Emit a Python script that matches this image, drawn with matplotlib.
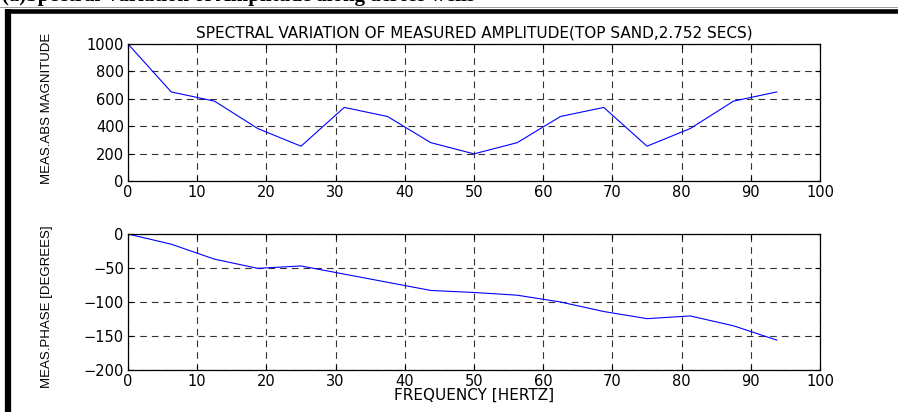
import matplotlib
matplotlib.use("Agg")
import matplotlib.pyplot as plt
from matplotlib.lines import Line2D

freq = [0, 6.25, 12.5, 18.75, 25, 31.25, 37.5, 43.75, 50, 56.25,
        62.5, 68.75, 75, 81.25, 87.5, 93.75]
magnitude = [1000, 650, 583, 383, 254, 537, 471, 280, 198, 280,
             471, 537, 254, 383, 583, 650]
phase = [0, -15, -37, -50.5, -47, -59, -71, -83, -86, -90,
         -100, -114, -124.5, -120.5, -135, -156]

mag_ticks = [0, 200, 400, 600, 800, 1000]
phase_ticks = [-200, -150, -100, -50, 0]
x_ticks = [0, 10, 20, 30, 40, 50, 60, 70, 80, 90, 100]

title = "SPECTRAL VARIATION OF MEASURED AMPLITUDE(TOP SAND,2.752 SECS)"
ylabel_top = "MEAS.ABS MAGNITUDE"
ylabel_bot = "MEAS.PHASE [DEGREES]"
xlabel = "FREQUENCY [HERTZ]"
header = "(a)Spectral Variation of Amplitude along across wells"

plt.rcParams['font.family'] = ['DejaVu Sans']

W, H = 898, 412
fig = plt.figure(figsize=(W / 100, H / 100), dpi=100)


def fx(px):
    return px / W


def fy(py):
    return 1 - py / H


ax1 = fig.add_axes([fx(128), fy(181), fx(820) - fx(128), fy(44) - fy(181)])
ax2 = fig.add_axes([fx(128), fy(370), fx(820) - fx(128), fy(234) - fy(370)])

for ax, y, yt in ((ax1, magnitude, mag_ticks), (ax2, phase, phase_ticks)):
    ax.plot(freq, y, color='#0000ff', lw=0.8)
    ax.set_xlim(0, 100)
    ax.set_ylim(yt[0], yt[-1])
    ax.set_xticks(x_ticks)
    ax.set_yticks(yt)
    ax.grid(True, color='0.2', lw=0.8, linestyle=(0, (6, 4.5)))
    ax.tick_params(direction='in', length=3.5, width=0.8, top=True, right=True,
                   labelsize=10.5, pad=3, colors='black')
    for s in ax.spines.values():
        s.set_linewidth(0.9)
        s.set_color('black')

ax1.set_title(title, fontsize=11, pad=5)
ax1.set_ylabel(ylabel_top, fontsize=9.5, family=['Liberation Sans', 'DejaVu Sans'])
ax2.set_ylabel(ylabel_bot, fontsize=9.5, family=['Liberation Sans', 'DejaVu Sans'])
lab_x = (53 - 128) / (820 - 128)
ax1.yaxis.set_label_coords(lab_x, 0.533)
ax2.yaxis.set_label_coords(lab_x, 0.463)
ax2.set_xlabel(xlabel, fontsize=11, labelpad=-1)

# frame lines
fig.add_artist(Line2D([fx(0), fx(W)], [fy(7), fy(7)], color='0.6', lw=0.7,
                      transform=fig.transFigure))
fig.add_artist(Line2D([fx(8), fx(8)], [fy(9), fy(H + 5)], color='black', lw=4.5,
                      transform=fig.transFigure, solid_capstyle='butt'))
fig.add_artist(Line2D([fx(5), fx(W + 5)], [fy(11), fy(11)], color='black', lw=3.3,
                      transform=fig.transFigure, solid_capstyle='butt'))
fig.text(fx(2), fy(1.5), header, family=['Liberation Serif', 'DejaVu Serif'],
         fontweight='bold', fontsize=15, va='baseline', ha='left')

fig.savefig("out.png", dpi=100)
